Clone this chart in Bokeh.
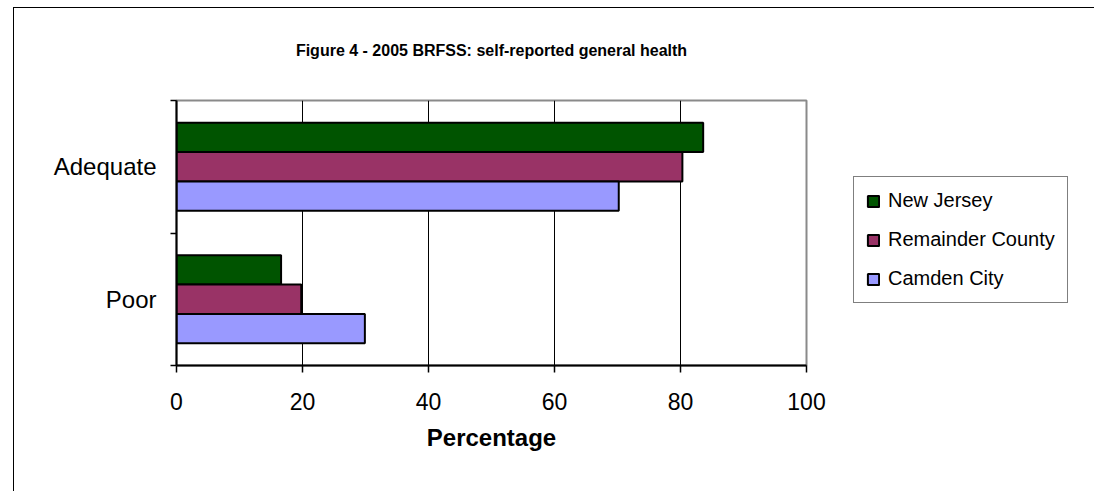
from bokeh.plotting import figure
from bokeh.layouts import row
from bokeh.models import (ColumnDataSource, FixedTicker, Legend, LegendItem, Range1d, Title)
from bokeh.embed import file_html
from bokeh.resources import INLINE
from bokeh.transform import dodge

# ---- data ----
categories = ["Adequate", "Poor"]
series_names = ["New Jersey", "Remainder County", "Camden City"]
new_jersey = [83.6, 16.6]
remainder_county = [80.3, 19.8]
camden_city = [70.2, 29.9]
x_ticks = [0, 20, 40, 60, 80, 100]
title_text = "Figure 4 - 2005 BRFSS: self-reported general health"
x_label = "Percentage"

FONT = "Liberation Sans"
colors = ["#005400", "#993366", "#9999FF"]

n = len(categories)
ypos = [n - i - 0.5 for i in range(n)]
bounds = list(range(n + 1))
src = ColumnDataSource(dict(y=ypos, nj=new_jersey, rc=remainder_county, cc=camden_city))

# main chart; canvas starts at page (14, 8) because of row margin + border
p = figure(width=816, height=484, output_backend="svg", toolbar_location=None,
           x_range=Range1d(x_ticks[0], x_ticks[-1]), y_range=Range1d(0, n),
           min_border_left=162, min_border_right=24, min_border_top=92,
           min_border_bottom=127)
p.background_fill_color = "white"
p.border_fill_color = "white"
p.outline_line_color = "#8a8a8a"
p.outline_line_width = 2

bar_h = 0.222
offsets = [bar_h, 0.0, -bar_h]
for col, off, c in zip(["nj", "rc", "cc"], offsets, colors):
    p.hbar(y=dodge("y", off, range=p.y_range), left=0, right=col, height=bar_h,
           fill_color=c, line_color="black", line_width=2, source=src)

# grid
p.xgrid.ticker = FixedTicker(ticks=x_ticks[1:-1])
p.xgrid.grid_line_color = "black"
p.xgrid.grid_line_width = 1
p.ygrid.visible = False

# x axis
xa = p.xaxis[0]
xa.ticker = FixedTicker(ticks=x_ticks)
xa.axis_line_color = "black"
xa.axis_line_width = 2
xa.major_tick_out = 7
xa.major_tick_in = 0
xa.major_tick_line_color = "black"
xa.major_tick_line_width = 1.5
xa.minor_tick_line_color = None
xa.major_label_text_font = FONT
xa.major_label_text_font_size = "23px"
xa.major_label_text_color = "black"
xa.major_label_standoff = 20
xa.axis_label = x_label
xa.axis_label_text_font = FONT
xa.axis_label_text_font_size = "24px"
xa.axis_label_text_font_style = "bold"
xa.axis_label_text_color = "black"
xa.axis_label_standoff = 11

# y axis
ya = p.yaxis[0]
ya.ticker = FixedTicker(ticks=ypos, minor_ticks=bounds)
ya.major_label_overrides = {y: c for y, c in zip(ypos, categories)}
ya.axis_line_color = "black"
ya.axis_line_width = 2
ya.major_tick_line_color = None
ya.major_tick_out = 0
ya.major_tick_in = 0
ya.minor_tick_line_color = "black"
ya.minor_tick_line_width = 1.5
ya.minor_tick_out = 6
ya.minor_tick_in = 0
ya.major_label_text_font = FONT
ya.major_label_text_font_size = "24px"
ya.major_label_text_color = "black"
ya.major_label_standoff = 14

# title (a blank spacer title sits between the frame and the real title)
p.title.text = title_text
p.title.align = "center"
p.title.text_font = FONT
p.title.text_font_size = "16px"
p.title.text_font_style = "bold"
p.title.text_color = "black"
p.title.standoff = 10
spacer = Title(text=" ", text_font=FONT, text_font_size="16px", standoff=18)
p.add_layout(spacer, "above")

# legend panel (separate canvas so the legend is not clipped; its frame aligns with p's)
lf = figure(width=265, height=484, output_backend="svg", toolbar_location=None,
            x_range=Range1d(0, 1), y_range=Range1d(0, 1),
            x_axis_location=None, y_axis_location=None, min_border=0)
lf.outline_line_color = None
lf.grid.visible = False
lf.background_fill_color = "white"
lf.border_fill_color = "white"
dummy = []
for c in colors:
    # sample bar hidden behind the opaque legend box; only the swatch shows
    dummy.append(lf.hbar(y=[0.47], left=[0.3], right=[0.5], height=0.1,
                         fill_color=c, line_color="black", line_width=2))

legend = Legend(items=[LegendItem(label=nm, renderers=[r]) for nm, r in zip(series_names, dummy)],
                location=(24, 62), orientation="vertical")
legend.glyph_width = 14
legend.glyph_height = 14
legend.label_height = 14
legend.spacing = 16
legend.padding = 12
legend.margin = 0
legend.label_standoff = 8
legend.label_text_font = FONT
legend.label_text_font_size = "20px"
legend.label_text_color = "black"
legend.border_line_color = "black"
legend.border_line_width = 1.5
legend.background_fill_color = "white"
legend.background_fill_alpha = 1
lf.add_layout(legend)

p.styles = {"border-top": "1px solid black", "border-left": "1px solid black"}
lf.styles = {"border-top": "1px solid black"}
layout = row(p, lf, spacing=0)
layout.margin = (7, 0, 0, 13)

open("out.html", "w").write(file_html(layout, INLINE))
